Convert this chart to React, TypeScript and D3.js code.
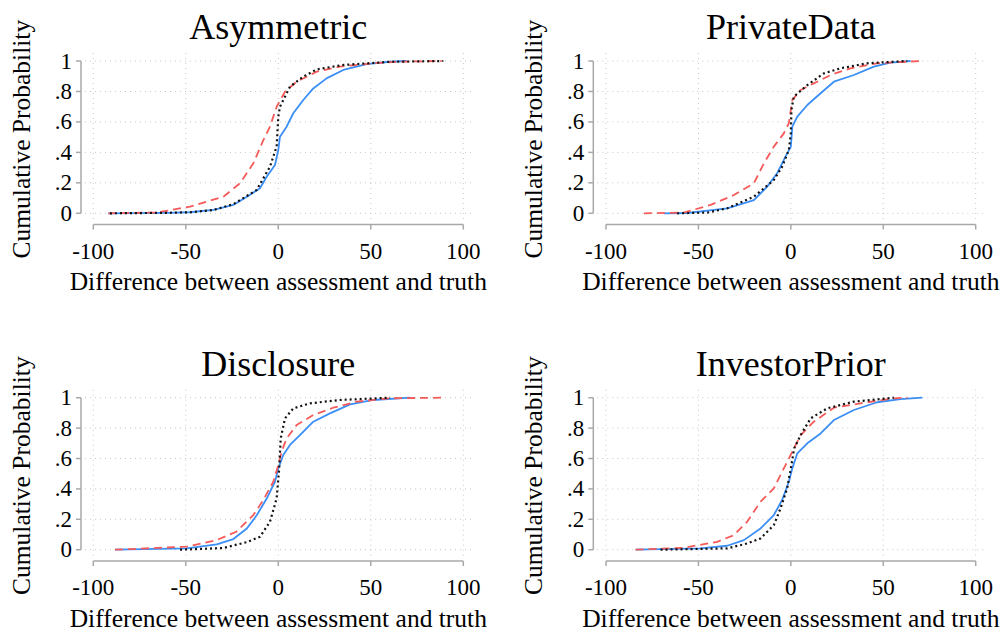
import React from "react";
import * as d3 from "d3";

// Panel titles
const panelTitles = ["Asymmetric", "PrivateData", "Disclosure", "InvestorPrior"];

// Axis ticks
const xTicks = [-100, -50, 0, 50, 100];
const yTicks = [0, 0.2, 0.4, 0.6, 0.8, 1];
const yTickLabels = ["0", ".2", ".4", ".6", ".8", "1"];
const xTitle = "Difference between assessment and truth";
const yTitle = "Cumulative Probability";

// CDF readings [difference, cumulative probability]
const asymmetricBlue: [number, number][] = [
  [-91.9, 0], [-60, 0.003], [-47.7, 0.007], [-35, 0.022], [-24.3, 0.055], [-17, 0.109], [-9.9, 0.164],
  [-6.3, 0.24], [-1.8, 0.317], [0, 0.416], [0.9, 0.503], [4.5, 0.569], [8.1, 0.657], [13.5, 0.744],
  [18.9, 0.82], [26.1, 0.886], [35.1, 0.941], [47.8, 0.98], [60.4, 0.995], [69.4, 1],
];
const asymmetricRed: [number, number][] = [
  [-91.9, 0], [-65.7, 0.005], [-47.7, 0.044], [-29.7, 0.109], [-20.7, 0.197], [-13.5, 0.328], [-8.1, 0.48],
  [-4.5, 0.569], [-0.9, 0.7], [3.6, 0.798], [9.9, 0.864], [20.8, 0.93], [33.4, 0.963], [51.4, 0.985],
  [64, 0.995], [88.3, 1],
];
const asymmetricBlack: [number, number][] = [
  [-91, 0], [-60, 0.003], [-47.7, 0.007], [-35, 0.022], [-24.3, 0.06], [-11.7, 0.153], [-4.5, 0.306],
  [-0.9, 0.438], [0, 0.635], [0.9, 0.7], [6.3, 0.831], [13.5, 0.897], [20.8, 0.945], [35.1, 0.974],
  [60.4, 0.995], [89.2, 1],
];

const privateBlue: [number, number][] = [
  [-68.7, 0], [-56, 0.002], [-34.4, 0.033], [-20, 0.087], [-12.8, 0.175], [-7.4, 0.263], [-2.9, 0.372],
  [0, 0.438], [0.8, 0.569], [3.5, 0.635], [8.9, 0.711], [16.1, 0.788], [23.3, 0.864], [34.1, 0.908],
  [44.9, 0.963], [53.9, 0.989], [64.8, 1],
];
const privateRed: [number, number][] = [
  [-79.5, 0], [-57.9, 0.005], [-43.4, 0.055], [-30.8, 0.12], [-20, 0.197], [-14.6, 0.328], [-9.2, 0.438],
  [-3.8, 0.525], [-1.1, 0.591], [0.8, 0.744], [5.3, 0.81], [12.4, 0.853], [21.5, 0.908], [32.3, 0.952],
  [46.7, 0.985], [70.2, 1],
];
const privateBlack: [number, number][] = [
  [-61.5, 0], [-45, 0.005], [-34.4, 0.033], [-20, 0.109], [-9.2, 0.219], [-4.7, 0.306], [-1.1, 0.416],
  [0, 0.525], [0.3, 0.678], [1.6, 0.766], [8.9, 0.842], [17.9, 0.919], [26.9, 0.952], [41.3, 0.985],
  [63, 1],
];

const disclosureBlue: [number, number][] = [
  [-88.3, 0], [-49.5, 0.009], [-33.3, 0.035], [-24.3, 0.07], [-17, 0.14], [-11.6, 0.228], [-6.2, 0.338],
  [-1.8, 0.447], [0, 0.535], [2.7, 0.623], [6.3, 0.689], [11.7, 0.754], [18.9, 0.842], [27.9, 0.897],
  [38.8, 0.956], [51.4, 0.985], [71.2, 1],
];
const disclosureRed: [number, number][] = [
  [-88.3, 0], [-49.5, 0.02], [-33.3, 0.063], [-22.7, 0.118], [-13.5, 0.228], [-8.1, 0.327], [-2.7, 0.447],
  [0, 0.557], [1.8, 0.645], [4.5, 0.732], [9.9, 0.82], [18.9, 0.886], [29.7, 0.934], [42.4, 0.974],
  [60.4, 0.996], [88.3, 1],
];
const disclosureBlack: [number, number][] = [
  [-53.1, 0], [-29.7, 0.011], [-17, 0.05], [-9.9, 0.085], [-4.5, 0.184], [-0.9, 0.338], [0.5, 0.535],
  [1.3, 0.732], [3.6, 0.864], [8.1, 0.93], [17.1, 0.963], [33.4, 0.985], [60.4, 1],
];

const investorBlue: [number, number][] = [
  [-84, 0], [-48.8, 0.009], [-34.4, 0.026], [-25.4, 0.063], [-16.4, 0.14], [-9.2, 0.228], [-4.7, 0.327],
  [-1.1, 0.447], [0.8, 0.535], [3.5, 0.634], [8.9, 0.7], [16.1, 0.765], [23.3, 0.853], [34.1, 0.919],
  [46.7, 0.97], [59.3, 0.991], [71.1, 1],
];
const investorRed: [number, number][] = [
  [-84, 0], [-57.9, 0.013], [-39.8, 0.052], [-30.8, 0.096], [-23.6, 0.184], [-16.4, 0.316], [-9.2, 0.404],
  [-3.8, 0.535], [0.8, 0.645], [5.3, 0.754], [12.4, 0.842], [23.3, 0.934], [37.7, 0.963], [55.7, 0.996],
  [63, 1],
];
const investorBlack: [number, number][] = [
  [-70.5, 0], [-34.4, 0.009], [-23.6, 0.041], [-16.4, 0.074], [-9.2, 0.162], [-5.6, 0.272], [-2, 0.404],
  [0, 0.535], [1.8, 0.667], [5.3, 0.754], [10.7, 0.864], [19.7, 0.93], [34.1, 0.974], [55.7, 1],
];

const panelSeries = [
  [asymmetricBlue, asymmetricRed, asymmetricBlack],
  [privateBlue, privateRed, privateBlack],
  [disclosureBlue, disclosureRed, disclosureBlack],
  [investorBlue, investorRed, investorBlack],
];

const seriesStyles = [
  { stroke: "#3b8ef5", dash: "none", width: 1.8 },
  { stroke: "#f55a5a", dash: "8 5", width: 1.8 },
  { stroke: "#111", dash: "2 3", width: 2.2 },
];

const FONT = "'Liberation Serif', 'Times New Roman', serif";

const colX = [
  { x0: 93.3, x1: 463.3, axisX: 81 },
  { x0: 606, x1: 975.7, axisX: 593.3 },
];
const rowY = [
  { y1: 61, y0: 213.3, axisY: 224.5 },
  { y1: 397.7, y0: 549.7, axisY: 561 },
];

function Panel({ idx }: { idx: number }) {
  const c = colX[idx % 2];
  const r = rowY[Math.floor(idx / 2)];
  const x = d3.scaleLinear().domain([-100, 100]).range([c.x0, c.x1]);
  const y = d3.scaleLinear().domain([0, 1]).range([r.y0, r.y1]);
  const line = d3
    .line<[number, number]>()
    .x((d) => x(d[0]))
    .y((d) => y(d[1]));
  const cx = (c.x0 + c.x1) / 2;
  const cy = (r.y0 + r.y1) / 2;
  const axisColor = "#a8a8a8";
  return (
    <g>
      {/* gridlines */}
      {yTicks.map((t) => (
        <line
          key={"gy" + t}
          x1={c.axisX + 4}
          x2={c.x1 + 8}
          y1={y(t)}
          y2={y(t)}
          stroke="#c8c8c8"
          strokeWidth={1}
          strokeDasharray="1 4"
        />
      ))}
      {xTicks.map((t) => (
        <line
          key={"gx" + t}
          x1={x(t)}
          x2={x(t)}
          y1={r.y1 - 8}
          y2={r.axisY - 4}
          stroke="#c8c8c8"
          strokeWidth={1}
          strokeDasharray="1 4"
        />
      ))}
      {/* y axis */}
      <line x1={c.axisX} x2={c.axisX} y1={y(0)} y2={y(1)} stroke={axisColor} strokeWidth={1.5} />
      {yTicks.map((t, i) => (
        <g key={"yt" + t}>
          <line x1={c.axisX - 5} x2={c.axisX} y1={y(t)} y2={y(t)} stroke={axisColor} strokeWidth={1.5} />
          <text
            x={c.axisX - 9}
            y={y(t) + 7.5}
            textAnchor="end"
            fontFamily={FONT}
            fontSize={23}
            fill="#000"
          >
            {yTickLabels[i]}
          </text>
        </g>
      ))}
      {/* x axis */}
      <line x1={x(-100)} x2={x(100)} y1={r.axisY} y2={r.axisY} stroke={axisColor} strokeWidth={1.5} />
      {xTicks.map((t) => (
        <g key={"xt" + t}>
          <line x1={x(t)} x2={x(t)} y1={r.axisY} y2={r.axisY + 5} stroke={axisColor} strokeWidth={1.5} />
          <text
            x={x(t)}
            y={r.axisY + 34}
            textAnchor="middle"
            fontFamily={FONT}
            fontSize={23}
            fill="#000"
          >
            {String(t)}
          </text>
        </g>
      ))}
      {/* titles */}
      <text x={cx} y={r.y1 - 22} textAnchor="middle" fontFamily={FONT} fontSize={36} fill="#000">
        {panelTitles[idx]}
      </text>
      <text
        x={cx}
        y={r.axisY + 65.5}
        textAnchor="middle"
        fontFamily={FONT}
        fontSize={25.5}
        fill="#000"
      >
        {xTitle}
      </text>
      <text
        transform={`translate(${c.axisX - 51},${cy + 2}) rotate(-90)`}
        textAnchor="middle"
        fontFamily={FONT}
        fontSize={25.5}
        fill="#000"
      >
        {yTitle}
      </text>
      {/* series */}
      {panelSeries[idx].map((s, i) => (
        <path
          key={"s" + i}
          d={line(s) || ""}
          fill="none"
          stroke={seriesStyles[i].stroke}
          strokeWidth={seriesStyles[i].width}
          strokeDasharray={seriesStyles[i].dash}
          strokeLinejoin="round"
        />
      ))}
    </g>
  );
}

export default function App() {
  return (
    <svg
      width={1003}
      height={629}
      style={{ position: "absolute", left: 0, top: 0, background: "#fff" }}
    >
      <rect x={0} y={0} width={1003} height={629} fill="#fff" />
      {[0, 1, 2, 3].map((i) => (
        <Panel key={i} idx={i} />
      ))}
    </svg>
  );
}
